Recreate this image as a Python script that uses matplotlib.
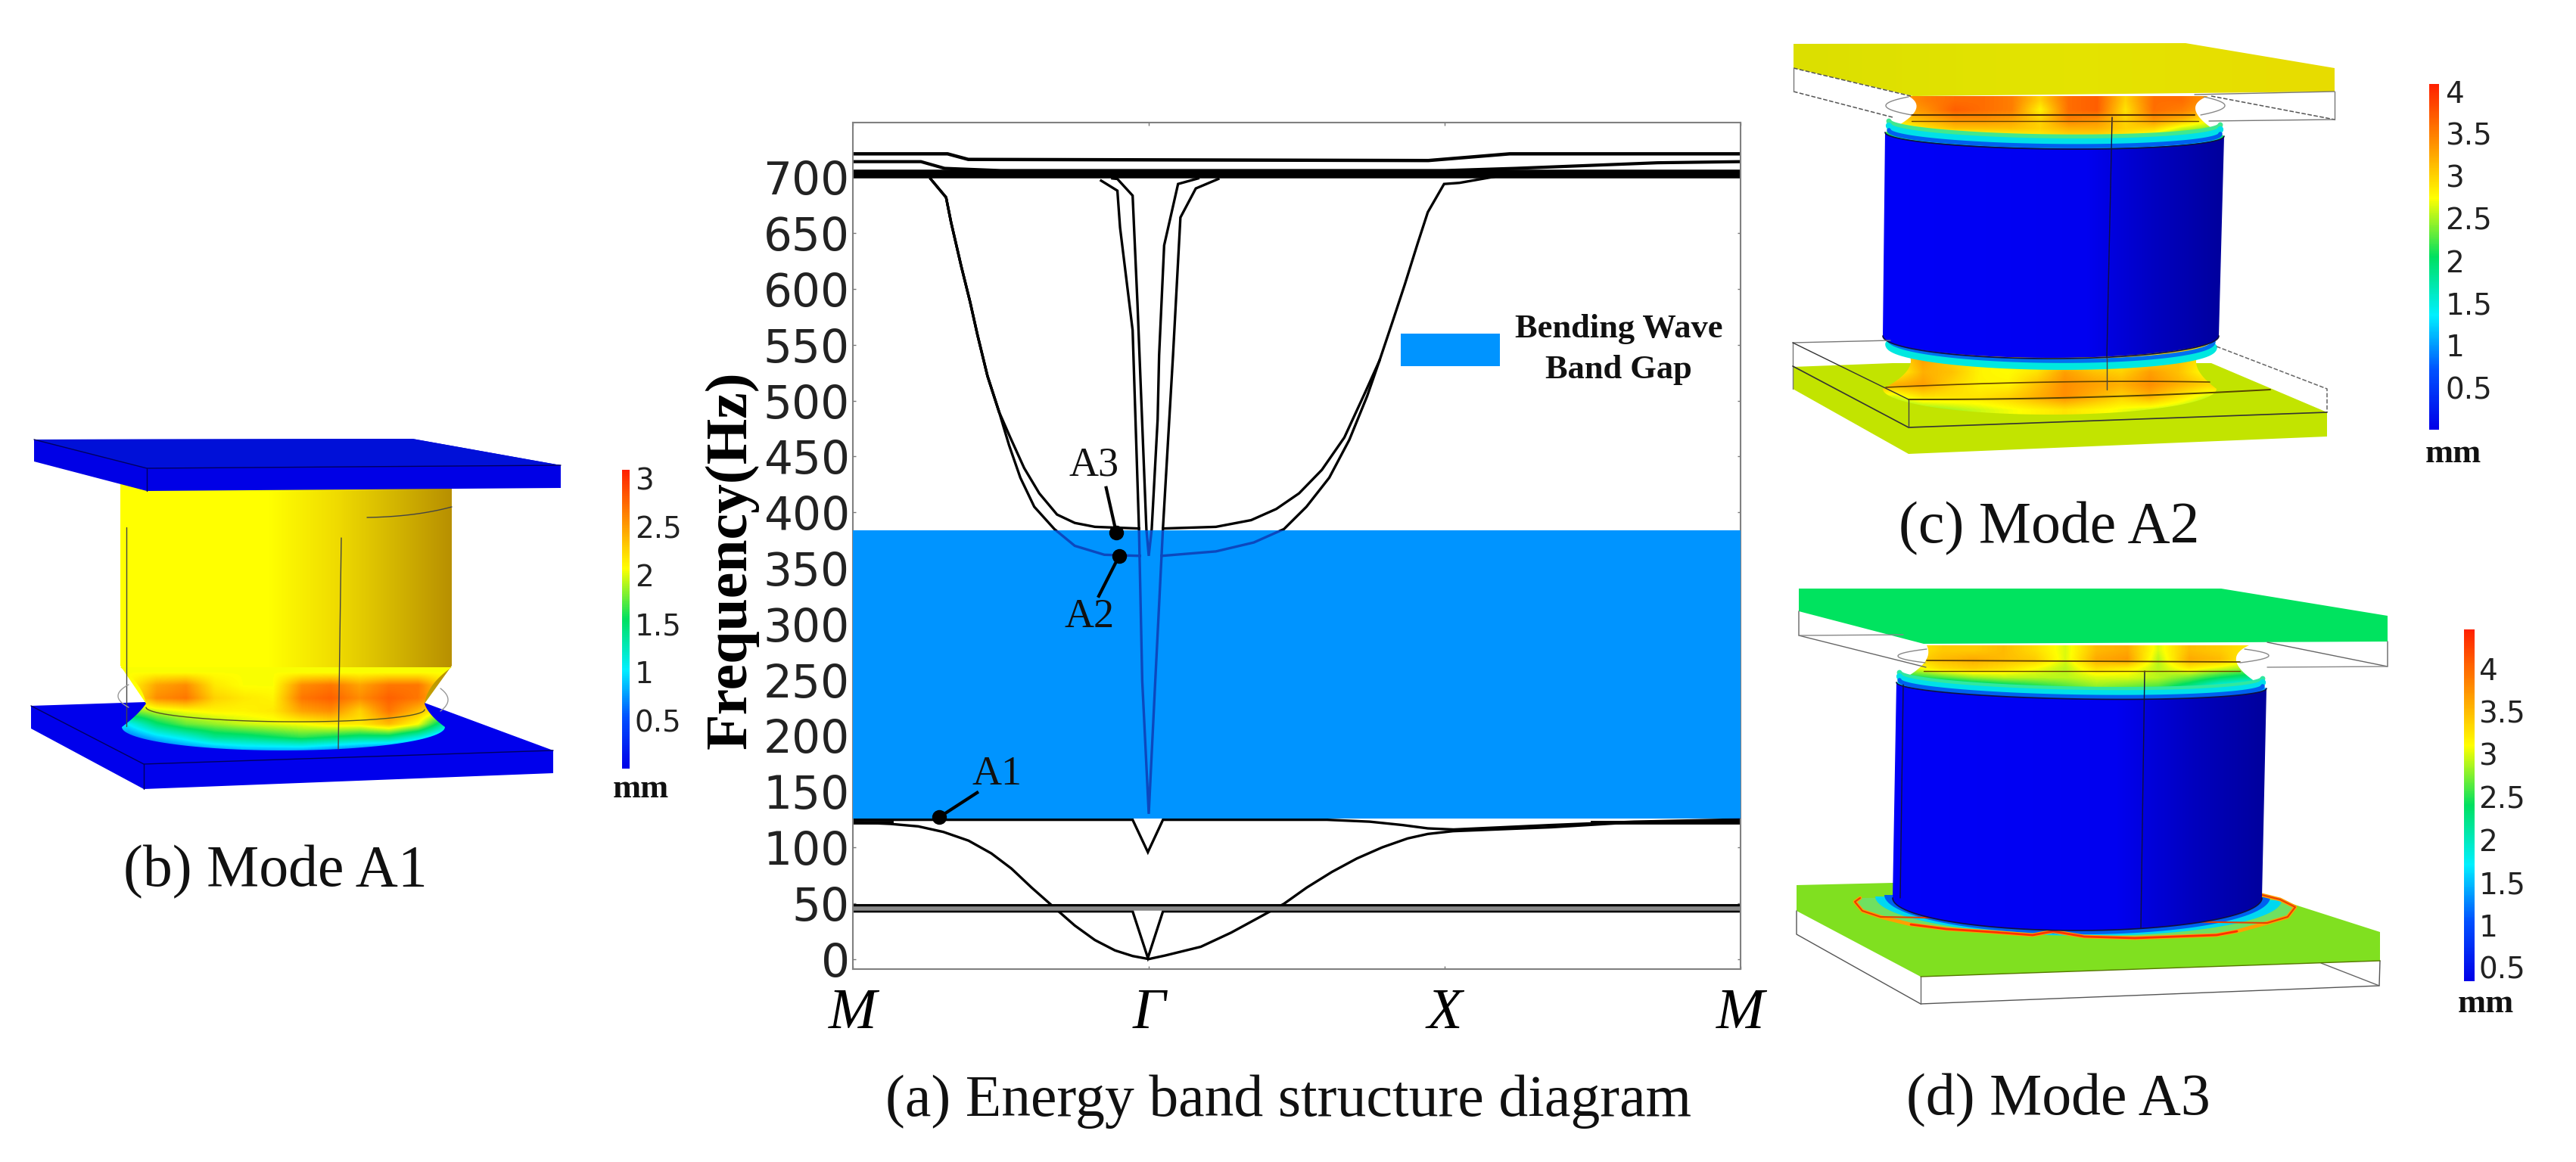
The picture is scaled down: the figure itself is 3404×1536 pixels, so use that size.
import numpy as np
from matplotlib import pyplot as plt
from matplotlib import cm
from matplotlib.colors import LinearSegmentedColormap, Normalize
from matplotlib.patches import Polygon, Rectangle

W, H = 3405, 1536
SERIF = "Liberation Serif"

# band structure, k runs M=0, Gamma=1, X=2, M=3
Y_TICKS = list(range(0, 701, 50))
K_LABELS = ["M", "Γ", "X", "M"]
GAP_LOW, GAP_HIGH = 126, 384

TOP1_K = [0, 0.32, 0.39, 1.945, 2.22, 3]
TOP1_F = [721, 721, 716, 715, 721, 721]
TOP2_K = [0, 0.23, 0.31, 0.5, 2.0, 2.24, 2.72, 3]
TOP2_F = [714, 714, 708, 706, 706, 708, 713, 714]
FLAT_K = [0, 3]
THICK_F = [702.7, 702.7]

COMMON_L_K = [0.263, 0.315, 0.332, 0.366, 0.396, 0.421, 0.455, 0.494]
COMMON_L_F = [698.5, 682, 659.5, 620.6, 588.6, 559, 522, 490]
A3_LEFT_K = COMMON_L_K + [0.532, 0.579, 0.63, 0.69, 0.75, 0.818, 0.967]
A3_LEFT_F = COMMON_L_F + [467, 439.6, 417, 398, 390.5, 387, 385.5]
A2_LEFT_K = COMMON_L_K + [0.528, 0.566, 0.613, 0.681, 0.75, 0.85, 0.97]
A2_LEFT_F = COMMON_L_F + [460, 431, 405, 385, 370, 362, 361]

COMMON_R_K = [1.78, 1.823, 1.866, 1.909, 1.943, 1.998, 2.05, 2.2]
COMMON_R_F = [536, 570, 604.6, 641, 668.7, 694, 695, 702]
A3_RIGHT_K = [1.048, 1.227, 1.346, 1.431, 1.508, 1.585, 1.661, 1.729] + COMMON_R_K
A3_RIGHT_F = [385.5, 387, 393, 403, 417, 438, 467, 506] + COMMON_R_F
A2_RIGHT_K = [1.043, 1.227, 1.355, 1.457, 1.533, 1.61, 1.678, 1.738, 1.78]
A2_RIGHT_F = [361, 365, 373, 385, 405, 431, 465, 504, 536]

SPIKE1_K = [0.839, 0.894, 0.903, 0.9455, 0.967, 0.978, 1.0, 1.022, 1.048, 1.082, 1.107, 1.159, 1.235]
SPIKE1_F = [697, 688, 655, 563, 385, 249, 130, 249, 386, 540.6, 664, 690, 698.5]
SPIKE2_K = [0.877, 0.894, 0.9455, 0.962, 0.992, 1.0, 1.01, 1.03, 1.035, 1.052, 1.099, 1.167]
SPIKE2_F = [699, 698.5, 683.6, 586, 385, 361, 385, 483, 540.6, 639, 694, 699]

LOW_U_K = [0, 0.127, 0.221, 0.306, 0.391, 0.468, 0.536, 0.604, 0.681, 0.75, 0.818, 0.886, 0.9455, 1.0,
           1.056, 1.176, 1.278, 1.371, 1.457, 1.534, 1.619, 1.703, 1.789, 1.875, 1.943, 2.028, 2.36, 2.64, 3]
LOW_U_F = [122.5, 121, 118.8, 113.8, 106, 94.6, 81, 64, 46, 30, 17, 7.7, 2.7, 0,
           3.2, 11, 23.6, 37, 49.5, 64, 78, 90, 100, 108, 112, 114.5, 118, 122.5, 124]
V125_K = [0, 0.9455, 0.997, 1.048, 1.602, 1.747, 1.857, 1.943, 2.03, 2.36, 2.64, 3]
V125_F = [124.7, 124.7, 95.7, 124.7, 124.7, 123, 120, 117, 116, 120, 123, 125]
LINE48_F = [47.6, 47.6]
GREY45_F = [45, 45]
V45_K = [0, 0.9455, 0.997, 1.048, 3]
V45_F = [42.7, 42.7, 1, 42.7, 42.7]

MODES = ["A1", "A2", "A3"]
MODE_K = [0.292, 0.90, 0.89]
MODE_F = [127, 361, 382]
MODE_TAIL_K = [0.42, 0.831, 0.856]
MODE_TAIL_F = [149, 325, 422]
MODE_TEXT_K = [0.486, 0.80, 0.815]
MODE_TEXT_F = [165, 306, 442]

# colour bars: tick values and range
BAR_B_TICKS = [0.5, 1, 1.5, 2, 2.5, 3]
BAR_C_TICKS = [0.5, 1, 1.5, 2, 2.5, 3, 3.5, 4]
BAR_D_TICKS = [0.5, 1, 1.5, 2, 2.5, 3, 3.5, 4]
RANGE_B = (0, 3.09)
RANGE_C = (0, 4.09)
RANGE_D = (0.34, 4.46)

NECK_B = [
    [2.0, 2.0, 2.0, 2.0, 2.0, 2.0, 2.0, 2.0, 2.0, 2.0, 2.0, 2.0],
    [2.0, 2.4, 2.5, 2.1, 2.0, 2.0, 2.5, 2.6, 2.4, 2.6, 2.6, 2.1],
    [2.0, 2.5, 2.6, 2.2, 2.1, 2.05, 2.6, 2.7, 2.5, 2.7, 2.6, 2.2],
    [1.7, 1.9, 2.0, 2.05, 2.05, 2.1, 2.4, 2.5, 2.2, 2.6, 2.3, 1.9],
    [1.0, 1.45, 1.7, 1.8, 1.9, 1.95, 2.0, 2.1, 2.1, 2.3, 2.0, 1.2],
    [0.6, 0.9, 1.1, 1.35, 1.4, 1.5, 1.6, 1.5, 1.4, 1.4, 1.1, 0.7],
    [0.2, 0.4, 0.6, 0.7, 0.8, 0.8, 0.8, 0.7, 0.6, 0.5, 0.4, 0.3],
]
NECK_C_TOP = [
    [3.3, 3.5, 3.6, 3.6, 3.5, 3.0, 3.6, 3.7, 3.0, 3.6, 3.6, 3.3],
    [3.2, 3.4, 3.7, 3.6, 3.5, 2.8, 3.6, 3.7, 2.9, 3.6, 3.5, 3.2],
    [3.0, 3.2, 3.4, 3.4, 3.3, 3.0, 3.5, 3.4, 3.0, 3.4, 3.2, 2.8],
    [2.6, 2.9, 3.1, 3.1, 3.1, 3.0, 3.2, 3.2, 3.0, 3.0, 2.6, 2.4],
    [1.8, 2.1, 2.4, 2.6, 2.7, 2.8, 2.9, 2.9, 2.8, 2.5, 2.1, 1.9],
    [1.0, 1.3, 1.5, 1.6, 1.7, 1.8, 1.9, 1.9, 1.8, 1.5, 1.2, 1.0],
]
NECK_C_LOW = [
    [2.8, 3.2, 3.0, 2.7, 2.7, 2.7, 2.7, 2.7, 2.7, 2.7, 3.0, 2.8],
    [2.8, 3.3, 3.0, 2.8, 2.75, 2.7, 2.7, 2.7, 2.8, 2.9, 3.1, 2.8],
    [2.7, 3.2, 3.1, 2.8, 2.75, 2.9, 3.3, 3.1, 3.0, 3.3, 3.1, 2.7],
    [3.2, 3.3, 3.0, 2.8, 2.8, 3.1, 3.4, 3.3, 3.2, 3.4, 3.2, 3.0],
    [2.6, 2.9, 2.9, 2.9, 3.0, 3.2, 3.4, 3.2, 3.0, 3.2, 2.9, 2.6],
    [2.3, 2.4, 2.5, 2.6, 2.7, 2.8, 2.9, 2.8, 2.7, 2.6, 2.5, 2.3],
]
NECK_D_TOP = [
    [3.2, 3.4, 3.4, 3.5, 3.3, 3.0, 3.5, 3.6, 3.0, 3.5, 3.4, 3.2],
    [3.3, 3.5, 3.6, 3.5, 3.4, 3.0, 3.6, 3.7, 2.9, 3.6, 3.5, 3.1],
    [3.0, 3.3, 3.4, 3.3, 3.1, 2.9, 3.3, 3.2, 2.9, 3.2, 3.0, 2.8],
    [2.4, 2.6, 2.8, 2.9, 2.9, 2.9, 3.0, 3.0, 2.9, 2.7, 2.4, 2.2],
    [1.5, 1.7, 2.0, 2.2, 2.4, 2.6, 2.8, 2.7, 2.6, 2.2, 1.7, 1.5],
    [1.0, 1.2, 1.3, 1.4, 1.5, 1.6, 1.7, 1.6, 1.5, 1.2, 1.1, 1.0],
]

RAINBOW = LinearSegmentedColormap.from_list("rainbow_fem", [
    (0.0, "#0000E8"), (0.17, "#0050FF"), (0.33, "#00F0FF"), (0.5, "#00E060"),
    (0.67, "#FFFF00"), (0.83, "#FF9000"), (1.0, "#FF2000")])


def sag(p0, mid, p1, n=30):
    # curved edge through mid, for the concave neck sides
    t = np.linspace(0, 1, n)
    p0, mid, p1 = np.array(p0), np.array(mid), np.array(p1)
    ctrl = 2 * mid - 0.5 * (p0 + p1)
    pts = np.outer((1 - t) ** 2, p0) + np.outer(2 * t * (1 - t), ctrl) + np.outer(t ** 2, p1)
    return [tuple(p) for p in pts]


def arc(p0, mid, p1, n=60):
    # half ellipse from p0 to p1, mid only gives the depth: a cylinder rim
    t = np.linspace(0, np.pi, n)
    u = (1 - np.cos(t)) / 2
    xs = p0[0] + (p1[0] - p0[0]) * u
    ys = p0[1] + (p1[1] - p0[1]) * u + (mid[1] - (p0[1] + p1[1]) / 2) * np.sin(t)
    return list(zip(xs, ys))


def fill(ax, pts, color, z=2):
    ax.add_patch(Polygon(pts, closed=True, fc=color, ec="none", zorder=z))


def shaded(ax, pts, stops, z=2):
    # polygon with a left to right colour ramp
    xs = [p[0] for p in pts]
    ys = [p[1] for p in pts]
    cmap = LinearSegmentedColormap.from_list("ramp", stops)
    im = ax.imshow(np.linspace(0, 1, 256)[None, :], cmap=cmap, aspect="auto", zorder=z,
                   extent=(min(xs), max(xs), max(ys), min(ys)))
    im.set_clip_path(Polygon(pts, closed=True, transform=ax.transData))


def heat(ax, grid, extent, pts, vrange, z=3):
    im = ax.imshow(np.array(grid), cmap=RAINBOW, norm=Normalize(*vrange), aspect="auto", zorder=z,
                   extent=extent, interpolation="bilinear", origin="upper")
    im.set_clip_path(Polygon(pts, closed=True, transform=ax.transData))


def wire(ax, pts, color="#444444", lw=1.0, ls="-", z=6):
    xs = [p[0] for p in pts]
    ys = [p[1] for p in pts]
    ax.plot(xs, ys, color=color, lw=lw, ls=ls, zorder=z, solid_capstyle="round")


def rim(ax, p0, mid, p1, layers):
    # coloured strips that follow a cylinder edge
    for dy, color, lw in layers:
        wire(ax, arc((p0[0], p0[1] + dy), (mid[0], mid[1] + dy), (p1[0], p1[1] + dy)), color=color, lw=lw, z=3.5)


def colorbar(fig, box, vrange, ticks, mm_xy, pad):
    x0, y0, x1, y1 = box
    cax = fig.add_axes([x0 / W, 1 - y1 / H, (x1 - x0) / W, (y1 - y0) / H])
    sm = cm.ScalarMappable(norm=Normalize(*vrange), cmap=RAINBOW)
    cb = fig.colorbar(sm, cax=cax, ticks=ticks)
    cb.outline.set_visible(False)
    cb.ax.set_yticklabels([f"{t:g}" for t in ticks])
    cb.ax.tick_params(length=0, labelsize=28, pad=pad, labelcolor="#222222")
    fig.text(mm_xy[0] / W, 1 - mm_xy[1] / H, "mm", family=SERIF, weight="bold", fontsize=32,
             ha="center", va="center", color="#111111")


def caption(fig, x, y, s):
    fig.text(x / W, 1 - y / H, s, family=SERIF, fontsize=56, ha="center", va="center", color="#111111")


def draw_mode_b(ax):
    fill(ax, [(41, 933), (193, 928), (561, 929), (731, 992), (731, 1022), (190, 1043), (41, 963)], "#0000EC")
    body = [(159, 640), (597, 640), (597, 880), (561, 930), (193, 930), (159, 880)]
    shaded(ax, body, [(0, "#FFFF00"), (0.45, "#FFFF00"), (0.65, "#F0DC00"), (1, "#B89000")])
    neck = [(159, 882), (597, 882)] + sag((597, 882), (572, 905), (561, 930)) + sag((561, 930), (570, 945), (588, 961)) \
        + arc((588, 961), (376, 992), (161, 961)) + sag((161, 961), (180, 945), (193, 930)) + sag((193, 930), (182, 905), (159, 882))
    heat(ax, NECK_B, (150, 610, 1000, 880), neck, (0, 3))
    fill(ax, [(45, 581), (545, 580), (741, 615), (741, 645), (194, 649), (45, 610)], "#0000E6", z=5)
    fill(ax, [(45, 581), (545, 580), (741, 615), (194, 619)], "#0010D8", z=5)
    wire(ax, [(45, 581), (194, 619), (741, 615)], color="#000060")
    wire(ax, [(194, 619), (194, 649)], color="#000060")
    wire(ax, [(41, 933), (190, 1010), (731, 992)], color="#000060")
    wire(ax, [(190, 1010), (190, 1043)], color="#000060")
    wire(ax, [(167, 697), (167, 960)])
    wire(ax, [(451, 711), (447, 990)])
    wire(ax, sag((485, 684), (545, 680), (597, 670)))
    wire(ax, arc((193, 935), (376, 954), (561, 938)), color="#555522")
    wire(ax, sag((170, 905), (156, 920), (170, 935)), color="#999999")
    wire(ax, sag((582, 910), (592, 925), (582, 940)), color="#999999")


def draw_mode_c(ax):
    plate_low = [(2369, 485), (2501, 480), (2922, 480), (3075, 545), (3075, 577), (2522, 600), (2369, 514)]
    fill(ax, plate_low, "#C2E400")
    low = [(2488, 444), (2932, 448)] + sag((2932, 448), (2902, 477), (2929, 514)) \
        + arc((2929, 514), (2713, 548), (2488, 514)) + sag((2488, 514), (2525, 477), (2488, 444))
    heat(ax, NECK_C_LOW, (2485, 2935, 550, 450), low, RANGE_C)
    rim(ax, (2496, 444), (2717, 473), (2925, 448), [(11, "#00E8E0", 7), (4, "#0070F0", 4)])
    top = [(2522, 127), (2918, 127)] + sag((2918, 127), (2902, 148), (2939, 180)) \
        + arc((2939, 180), (2717, 200), (2491, 175)) + sag((2491, 175), (2530, 148), (2522, 127))
    heat(ax, NECK_C_TOP, (2490, 2940, 200, 127), top, RANGE_C)
    rim(ax, (2496, 175), (2717, 196), (2934, 180), [(-15, "#40E890", 5), (-9, "#00E0E8", 6), (-3, "#0060F0", 4)])
    body = arc((2491, 175), (2717, 196), (2939, 180)) + arc((2932, 444), (2717, 473), (2488, 444))
    shaded(ax, body, [(0, "#0000F8"), (0.6, "#0000F0"), (0.8, "#0000C0"), (1, "#00009C")], z=4)
    shaded(ax, [(2370, 58), (2888, 57), (3085, 90), (3085, 121), (2528, 127), (2370, 90)],
           [(0, "#DCDF00"), (0.5, "#E4E400"), (1, "#E8DC00")], z=5)
    wire(ax, arc((2491, 175), (2717, 197), (2939, 180)), color="#101040", lw=1.2)
    wire(ax, arc((2488, 444), (2717, 474), (2932, 444)), color="#101040", lw=1.2)
    wire(ax, [(2791, 155), (2784, 473)], color="#101040")
    wire(ax, [(2784, 473), (2784, 515)])
    wire(ax, [(2526, 152), (2900, 152)], color="#553300", lw=1.5)
    wire(ax, [(2526, 160), (2905, 160)], color="#664400")
    # outline of the undeformed cell
    for seg in ([(2370, 90), (2525, 127)], [(2370, 121), (2501, 155)], [(2922, 127), (3085, 158)]):
        wire(ax, seg, ls="--", color="#555555", lw=1.1)
    wire(ax, [(2370, 90), (2370, 121)], color="#777777")
    wire(ax, [(3085, 121), (3085, 158)], color="#777777")
    wire(ax, [(2900, 125), (3085, 121)], color="#777777")
    wire(ax, [(2919, 160), (3085, 158)], color="#777777")
    wire(ax, sag((2522, 128), (2492, 140), (2526, 152)), color="#888888")
    wire(ax, sag((2912, 128), (2940, 140), (2908, 152)), color="#888888")
    wire(ax, [(2369, 453), (2498, 450)], color="#777777")
    wire(ax, [(2369, 453), (2369, 514)], color="#777777")
    wire(ax, [(2369, 453), (2522, 528)], color="#333333")
    wire(ax, [(2929, 458), (3075, 514), (3075, 545)], color="#666666", ls="--", lw=1.1)
    wire(ax, [(2369, 484), (2522, 565), (3075, 545)], color="#333333", lw=1.2)
    wire(ax, [(2522, 528), (2522, 565)], color="#444444")
    wire(ax, sag((2522, 528), (2760, 525), (3000, 515)), color="#554400", lw=1.4, z=5)
    wire(ax, sag((2492, 512), (2713, 505), (2920, 505)), color="#664400", lw=1.2, z=5)


def draw_mode_d(ax):
    fill(ax, [(2374, 1170), (2501, 1167), (2989, 1182), (3145, 1232), (3145, 1270), (2538, 1291), (2374, 1204)],
         "#80E020")
    ring_x = [2458, 2451, 2461, 2485, 2525, 2572, 2633, 2686, 2713, 2754, 2821, 2929, 2956, 2996, 3023, 3033, 3013, 2989]
    ring_y = [1187, 1192, 1204, 1212, 1222, 1228, 1232, 1236, 1231, 1238, 1240, 1236, 1231, 1220, 1212, 1199, 1189, 1183]
    ring = list(zip(ring_x, ring_y))
    fill(ax, ring, "#70E060", z=3)
    fill(ax, arc((2478, 1185), (2740, 1237), (3015, 1190)), "#00D8F0", z=3)
    fill(ax, arc((2490, 1183), (2740, 1235), (3000, 1186)), "#0060F0", z=3)
    wire(ax, ring, color="#FFA000", lw=3.5, z=3)
    wire(ax, ring[4:13], color="#FF3000", lw=2.0, z=3)
    wire(ax, ring[:4] + ring[13:], color="#E84000", lw=1.5, z=3)
    top = [(2546, 853), (2972, 853)] + sag((2972, 853), (2956, 877), (2995, 910)) \
        + arc((2995, 910), (2747, 928), (2506, 902)) + sag((2506, 902), (2542, 877), (2546, 853))
    heat(ax, NECK_D_TOP, (2505, 2995, 926, 853), top, RANGE_D)
    rim(ax, (2510, 902), (2747, 924), (2990, 910), [(-13, "#30E8A0", 5), (-8, "#00E0E8", 6), (-3, "#0060F0", 4)])
    body = arc((2506, 902), (2747, 924), (2995, 910)) + arc((2989, 1187), (2745, 1230), (2501, 1187))
    shaded(ax, body, [(0, "#0000F8"), (0.6, "#0000F0"), (0.8, "#0000C0"), (1, "#00009C")], z=4)
    fill(ax, [(2377, 778), (2935, 778), (3155, 814), (3155, 848), (2542, 851), (2377, 808)], "#00E35F", z=5)
    wire(ax, arc((2506, 902), (2747, 924), (2995, 910)), color="#101040", lw=1.2)
    wire(ax, arc((2501, 1187), (2745, 1230), (2989, 1187)), color="#101040", lw=1.2)
    wire(ax, [(2834, 887), (2829, 1227)], color="#101040")
    wire(ax, [(2515, 905), (2511, 1187)], color="#101040")
    wire(ax, [(2546, 873), (2960, 875)], color="#664400", lw=1.3)
    wire(ax, [(2542, 887), (2960, 887)], color="#664400", lw=1.0)
    wire(ax, [(2377, 808), (2377, 840), (2545, 882)], color="#666666")
    wire(ax, [(2377, 840), (2515, 839)], color="#888888")
    wire(ax, [(3155, 848), (3155, 881), (2996, 849)], color="#666666")
    wire(ax, [(2996, 882), (3155, 881)], color="#888888")
    wire(ax, sag((2546, 858), (2508, 867), (2544, 876)), color="#888888")
    wire(ax, sag((2966, 858), (2998, 867), (2960, 876)), color="#888888")
    wire(ax, [(2374, 1204), (2374, 1235), (2538, 1327), (3144, 1303), (3145, 1270)], color="#555555")
    wire(ax, [(2538, 1291), (2538, 1327)], color="#666666")
    wire(ax, [(3067, 1273), (3144, 1303)], color="#666666")
    wire(ax, [(2538, 1291), (3145, 1270)], color="#557700")


def draw_bands(ax):
    curves = [
        (COMMON_L_K, COMMON_L_F), (A3_LEFT_K, A3_LEFT_F), (A2_LEFT_K, A2_LEFT_F),
        (A3_RIGHT_K, A3_RIGHT_F), (A2_RIGHT_K, A2_RIGHT_F),
        (SPIKE1_K, SPIKE1_F), (SPIKE2_K, SPIKE2_F),
        (LOW_U_K, LOW_U_F), (V125_K, V125_F), (V45_K, V45_F),
    ]
    for k, f in curves:
        ax.plot(k, f, color="black", lw=2.4, zorder=2, solid_joinstyle="miter")
    ax.plot(TOP1_K, TOP1_F, color="black", lw=3.2, zorder=2)
    ax.plot(TOP2_K, TOP2_F, color="black", lw=3.0, zorder=2)
    ax.plot(FLAT_K, THICK_F, color="black", lw=8.3, zorder=2, solid_capstyle="butt")
    ax.plot(FLAT_K, LINE48_F, color="black", lw=2.8, zorder=2)
    ax.plot(FLAT_K, GREY45_F, color="#8A8A8A", lw=4, zorder=2)
    ax.plot([0, 0.13], [122.5, 122.5], color="black", lw=3.5, zorder=2)
    ax.plot([2.5, 3], [122.5, 122.5], color="black", lw=3.5, zorder=2)

    gap = ax.axhspan(GAP_LOW, GAP_HIGH, color="#0094FF", lw=0, zorder=3)
    # curves show through the gap as dark blue
    for k, f in curves:
        line, = ax.plot(k, f, color="#0C48BE", lw=2.4, zorder=4, solid_joinstyle="miter")
        line.set_clip_path(gap)


fig = plt.figure(figsize=(W / 100, H / 100), dpi=100, facecolor="white")

pan = fig.add_axes([0, 0, 1, 1], zorder=0)
draw_mode_b(pan)
draw_mode_c(pan)
draw_mode_d(pan)
pan.set_xlim(0, W)
pan.set_ylim(H, 0)
pan.axis("off")

ax = fig.add_axes([1127 / W, 1 - 1281 / H, 1173 / W, 1119 / H], zorder=2)
draw_bands(ax)
ax.set_xlim(0, 3)
ax.set_ylim(-9, 749)
ax.set_yticks(Y_TICKS)
ax.set_xticks(range(4))
ax.set_xticklabels(K_LABELS, family=SERIF, style="italic", fontsize=55)
ax.tick_params(axis="y", labelsize=43, direction="in", length=3, width=1, color="#777777",
               right=True, pad=3, labelcolor="#222222")
ax.tick_params(axis="x", direction="in", length=3, width=1, color="#777777", top=True, pad=18)
for sp in ax.spines.values():
    sp.set_color("#808080")
    sp.set_linewidth(1.5)
ax.set_ylabel("Frequency(Hz)", family=SERIF, weight="bold", fontsize=56, labelpad=0)
ax.yaxis.set_label_coords((1003 - 1127) / 1173, (1281 - 740) / 1119)

for name, k, f, tk, tf, xk, xf in zip(MODES, MODE_K, MODE_F, MODE_TAIL_K, MODE_TAIL_F, MODE_TEXT_K, MODE_TEXT_F):
    ax.plot([k, tk], [f, tf], color="black", lw=3, zorder=6)
    ax.plot([k], [f], "o", color="black", ms=13, zorder=6)
    ax.text(xk, xf, name, family=SERIF, fontsize=39, ha="center", va="center", color="#111111", zorder=6)

# legend swatch and its two lines
ax.add_patch(Rectangle(((1851 - 1127) / 1173, 1 - (484 - 162) / 1119), 131 / 1173, 43 / 1119,
                       transform=ax.transAxes, fc="#0094FF", ec="none", zorder=5))
ax.text((2139 - 1127) / 1173, 1 - (462 - 162) / 1119, "Bending Wave\nBand Gap", transform=ax.transAxes,
        family=SERIF, weight="bold", fontsize=32, ha="center", va="center", ma="center",
        linespacing=1.45, color="#111111")

colorbar(fig, (822, 621, 832, 1016), RANGE_B, BAR_B_TICKS, (847, 1043), 5)
colorbar(fig, (3210, 111, 3223, 568), RANGE_C, BAR_C_TICKS, (3242, 600), 6)
colorbar(fig, (3256, 832, 3270, 1297), RANGE_D, BAR_D_TICKS, (3285, 1327), 4)

caption(fig, 364, 1153, "(b) Mode A1")
caption(fig, 1703, 1456, "(a) Energy band structure diagram")
caption(fig, 2708, 699, "(c) Mode A2")
caption(fig, 2720, 1455, "(d) Mode A3")

fig.savefig("out.png", dpi=100)
